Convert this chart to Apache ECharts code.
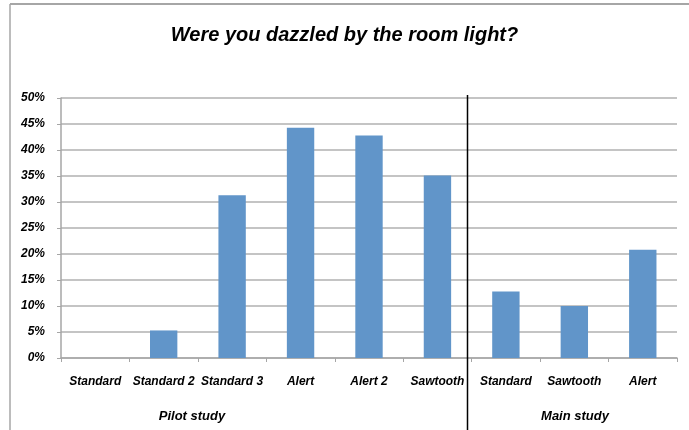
<!DOCTYPE html>
<html>
<head>
<meta charset="utf-8">
<script src="https://cdn.jsdelivr.net/npm/echarts@6/dist/echarts.min.js"></script>
<style>
  html, body { margin: 0; padding: 0; background: #fff; }
  #chart { width: 689px; height: 430px; }
</style>
</head>
<body>
<div id="chart"></div>
<script>
var categories = ['Standard', 'Standard 2', 'Standard 3', 'Alert', 'Alert 2', 'Sawtooth', 'Standard', 'Sawtooth', 'Alert'];
var values = [0, 5.3, 31.3, 44.3, 42.8, 35.1, 12.8, 10.0, 20.8];
var groups = ['Pilot study', 'Main study'];

var font = '"Liberation Sans", Arial, sans-serif';

var chart = echarts.init(document.getElementById('chart'));

var option = {
    animation: false,
    title: {
        text: 'Were you dazzled by the room light?',
        left: 'center',
        top: 20,
        textStyle: {
            fontFamily: font,
            fontSize: 20,
            fontWeight: 'bold',
            fontStyle: 'italic',
            color: '#000'
        }
    },
    grid: {
        left: 61,
        right: 12,
        top: 98,
        bottom: 72
    },
    xAxis: {
        type: 'category',
        data: categories,
        axisLine: { lineStyle: { color: '#a6a6a6', width: 1.5 } },
        axisTick: { show: true, length: 4, lineStyle: { color: '#a6a6a6' } },
        axisLabel: {
            interval: 0,
            margin: 18,
            color: '#000',
            fontFamily: font,
            fontSize: 12,
            fontWeight: 'bold',
            fontStyle: 'italic'
        }
    },
    yAxis: {
        type: 'value',
        min: 0,
        max: 50,
        interval: 5,
        axisLine: { show: true, lineStyle: { color: '#a6a6a6', width: 1.5 } },
        axisTick: { show: true, length: 4, lineStyle: { color: '#a6a6a6' } },
        splitLine: { lineStyle: { color: '#b0b0b0', width: 1.5 } },
        axisLabel: {
            margin: 16,
            color: '#000',
            formatter: '{value}%',
            fontFamily: font,
            fontSize: 12,
            fontWeight: 'bold',
            fontStyle: 'italic'
        }
    },
    series: [{
        type: 'bar',
        data: values,
        barWidth: '40%',
        itemStyle: {
            color: '#6195c9'
        }
    }],
    graphic: [
        // chart frame
        { type: 'line', shape: { x1: 10, y1: 4, x2: 689, y2: 4 }, style: { stroke: '#a6a6a6', lineWidth: 2 } },
        { type: 'line', shape: { x1: 10, y1: 4, x2: 10, y2: 430 }, style: { stroke: '#a6a6a6', lineWidth: 1.5 } },
        // group divider
        { type: 'line', z: 10, shape: { x1: 467.5, y1: 95, x2: 467.5, y2: 430 }, style: { stroke: '#000', lineWidth: 1.5 } },
        {
            type: 'text', x: 192, y: 416,
            style: {
                text: groups[0], align: 'center', verticalAlign: 'middle',
                font: 'italic bold 13px ' + font, fill: '#000'
            }
        },
        {
            type: 'text', x: 575, y: 416,
            style: {
                text: groups[1], align: 'center', verticalAlign: 'middle',
                font: 'italic bold 13px ' + font, fill: '#000'
            }
        }
    ]
};

chart.setOption(option);
</script>
</body>
</html>
